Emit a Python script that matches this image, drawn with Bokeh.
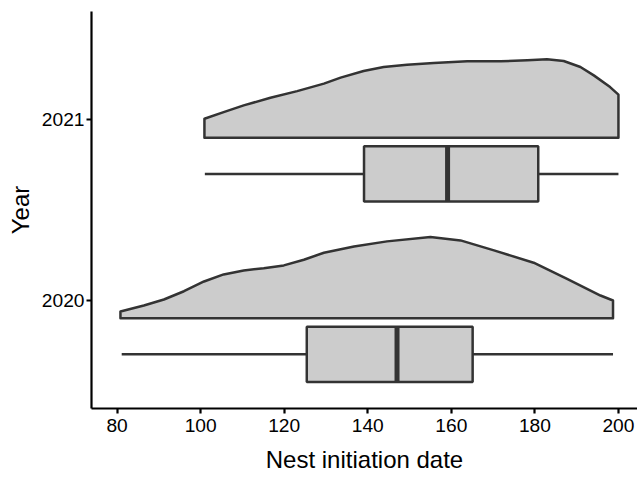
from bokeh.plotting import figure
from bokeh.models import Range1d, FixedTicker
from bokeh.embed import file_html
from bokeh.resources import INLINE

# ---- data ----
years = [2020, 2021]
year_labels = ["2020", "2021"]

# boxplot stats (min, q1, median, q3, max)
box_min = [81.1, 101.0]
box_q1 = [125.4, 139.1]
box_med = [147.0, 159.1]
box_q3 = [165.1, 180.8]
box_max = [198.7, 200.0]

# half-violin density profiles (normalised density)
dens_x_2020 = [80.8, 86.4, 91.2, 96.0, 100.8, 105.5, 110.3, 115.1, 119.9, 124.7,
               129.5, 136.7, 144.6, 155.0, 162.2, 170.2, 179.7, 187.7, 195.7, 198.7]
dens_y_2020 = [0.083, 0.157, 0.231, 0.333, 0.453, 0.540, 0.589, 0.617, 0.651, 0.721,
               0.807, 0.885, 0.947, 1.000, 0.959, 0.836, 0.684, 0.486, 0.280, 0.219]
dens_x_2021 = [100.9, 105.5, 110.3, 116.7, 123.1, 129.5, 133.5, 139.0, 143.8, 149.4,
               155.8, 163.8, 171.8, 178.2, 182.9, 186.9, 190.9, 194.1, 198.0, 200.0]
dens_y_2021 = [0.235, 0.316, 0.399, 0.494, 0.575, 0.667, 0.741, 0.822, 0.872, 0.901,
               0.921, 0.942, 0.942, 0.954, 0.967, 0.946, 0.872, 0.769, 0.625, 0.531]

x_ticks = [80, 100, 120, 140, 160, 180, 200]
x_title = "Nest initiation date"
y_title = "Year"

# ---- styling ----
FILL = "#cccccc"
LINE = "#333333"
VIOLIN_OFFSET = -0.1
VIOLIN_SCALE = 0.45
BOX_OFFSET = -0.3
BOX_HALF = 0.153

p = figure(width=637, height=479,
           x_range=Range1d(73.87, 204.56), y_range=Range1d(2019.4, 2021.6),
           output_backend="svg", toolbar_location=None,
           min_border_left=91, min_border_top=11, min_border_right=0,
           min_border_bottom=71)

p.grid.visible = False
p.outline_line_color = None
p.background_fill_color = "white"
p.border_fill_color = "white"

# violins
for yr, dx, dy in [(2020, dens_x_2020, dens_y_2020), (2021, dens_x_2021, dens_y_2021)]:
    base = yr + VIOLIN_OFFSET
    xs = list(dx) + list(reversed(dx))
    ys = [base + d * VIOLIN_SCALE for d in dy] + [base] * len(dx)
    p.patch(xs, ys, fill_color=FILL, line_color=LINE, line_width=2.5,
            line_join="round")

# boxplots
centers = [y + BOX_OFFSET for y in years]
p.segment(x0=box_min, y0=centers, x1=box_q1, y1=centers, line_color=LINE, line_width=2.5)
p.segment(x0=box_q3, y0=centers, x1=box_max, y1=centers, line_color=LINE, line_width=2.5)
p.quad(left=box_q1, right=box_q3,
       bottom=[c - BOX_HALF for c in centers], top=[c + BOX_HALF for c in centers],
       fill_color=FILL, line_color=LINE, line_width=2.5)
p.segment(x0=box_med, y0=[c - BOX_HALF for c in centers],
          x1=box_med, y1=[c + BOX_HALF for c in centers],
          line_color=LINE, line_width=5)

# axes
p.xaxis.ticker = FixedTicker(ticks=x_ticks)
p.yaxis.ticker = FixedTicker(ticks=years)
p.yaxis.major_label_overrides = {y: l for y, l in zip(years, year_labels)}
p.xaxis.axis_label = x_title
p.yaxis.axis_label = y_title

for ax in (p.xaxis, p.yaxis):
    ax.axis_line_color = "black"
    ax.axis_line_width = 2.2
    ax.major_tick_line_color = "black"
    ax.major_tick_line_width = 2.2
    ax.major_tick_out = 5
    ax.major_tick_in = 0
    ax.minor_tick_line_color = None
    ax.major_label_text_font = "Liberation Sans"
    ax.major_label_text_font_size = "19.2px"
    ax.major_label_text_color = "black"
    ax.axis_label_text_font = "Liberation Sans"
    ax.axis_label_text_font_size = "24px"
    ax.axis_label_text_font_style = "normal"
    ax.axis_label_text_color = "black"

p.xaxis.major_label_standoff = 5
p.xaxis.axis_label_standoff = 11
p.yaxis.major_label_standoff = 2
p.yaxis.axis_label_standoff = 5

open("out.html", "w").write(file_html(p, INLINE))
